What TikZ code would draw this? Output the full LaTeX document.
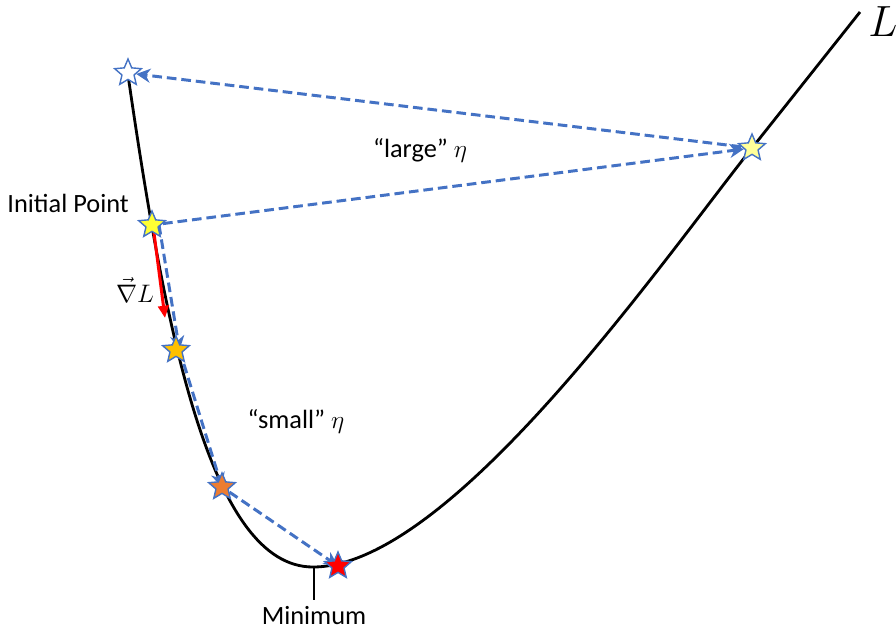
\documentclass[tikz,border=0pt]{standalone}
\usepackage{fontspec}
\setmainfont{Carlito}
\usepackage{amsmath}
\usepackage{tikz}
\usetikzlibrary{shapes.geometric, arrows.meta, positioning, backgrounds}

\definecolor{stepblue}{HTML}{4472C4}
\definecolor{inityellow}{HTML}{FFFF33}
\definecolor{faryellow}{HTML}{FFFF99}
\definecolor{gold}{HTML}{FFC000}
\definecolor{amber}{HTML}{ED7D31}

\begin{document}
\begin{tikzpicture}[
  x=0.02cm, y=-0.02cm,
  marker/.style={star, star points=5, star point ratio=2.2, draw=stepblue, line width=0.8pt, inner sep=0pt, minimum size=0.56cm},
  jump/.style={draw=stepblue, line width=1.7pt, dash pattern=on 5.5pt off 2.8pt, -{Stealth[length=8pt, width=8pt, inset=2.5pt]}},
  label/.style={font=\fontsize{15}{18}\selectfont}
]
  \useasboundingbox (0,0) rectangle (896,630);

  % stars on the loss curve
  \node[marker, fill=white] (start) at (128,73) {};
  \node[marker, fill=inityellow] (init) at (152,225) {};
  \node[marker, fill=faryellow] (far) at (752,148) {};
  \node[marker, fill=gold] (s1) at (176,350) {};
  \node[marker, fill=amber] (s2) at (222,487) {};
  \node[marker, fill=red] (s3) at (338,566) {};

  \begin{scope}[on background layer]
    \draw[line width=1.6pt] (128,75) .. controls (165,330) and (210,567) .. (313,567)
      .. controls (450,567) and (660,264) .. (752,148) -- (860,12);

    % large step
    \draw[jump] (init) -- (far);
    \draw[jump] (far) -- (start);

    % small steps
    \draw[jump] ([xshift=4pt]init.center) -- ([xshift=2pt]s1.center);
    \draw[jump] ([xshift=2pt]s1.center) -- (s2.center);
    \draw[jump] (s2) -- (s3.center);

    % gradient
    \coordinate (g0) at (154,233);
    \coordinate (g1) at (165,318);
    \draw[red, line width=1.7pt, -{Triangle[length=7pt, width=6pt]}] (g0) -- (g1);

    % minimum tick
    \coordinate (m0) at (314,567);
    \coordinate (m1) at (314,600);
    \draw[line width=1.6pt] (m0) -- (m1);
  \end{scope}

  \node[label, anchor=east] (initlbl) at (135,203) {Initial Point};
  \node[label, inner sep=1pt] (grad) at (135,290) {$\vec{\nabla} L$};
  \node[label] (large) at (420,150) {“large” $\eta$};
  \node[label] (small) at (296,421) {“small” $\eta$};
  \node[label, below=0pt of m1] (minlbl) {Minimum};
  \node[font=\fontsize{24}{28}\selectfont] (loss) at (883,22) {$L$};
\end{tikzpicture}
\end{document}
